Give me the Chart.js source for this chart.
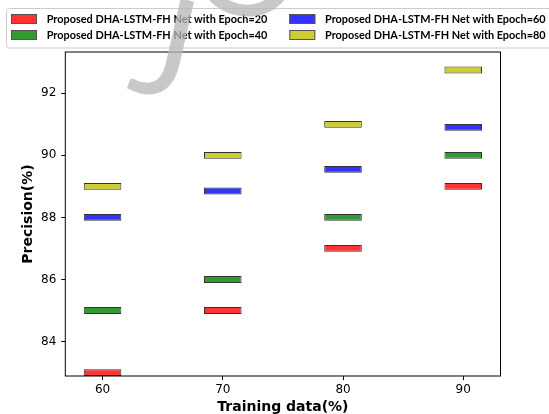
<html>
<head>
<meta charset="utf-8">
<title>Precision vs Training data</title>
<script src="https://cdn.jsdelivr.net/npm/chart.js@4.4.1/dist/chart.umd.min.js"></script>
<style>
  html, body { margin: 0; padding: 0; background: #fff; overflow: hidden; }
  #wrap { width: 549px; height: 426px; }
</style>
</head>
<body>
<div id="wrap"><canvas id="precisionChart"></canvas></div>
<script>
// training data (%) on the x axis
var trainingData = [60, 70, 80, 90];
// precision (%) for each epoch setting
var epoch20 = [83, 85, 87, 89];
var epoch40 = [85, 86, 88, 90];
var epoch60 = [88, 88.85, 89.55, 90.9];
var epoch80 = [89, 90, 91, 92.75];
var seriesLabels = [
    'Proposed DHA-LSTM-FH Net with Epoch=20',
    'Proposed DHA-LSTM-FH Net with Epoch=40',
    'Proposed DHA-LSTM-FH Net with Epoch=60',
    'Proposed DHA-LSTM-FH Net with Epoch=80'
];
var yTicks = [84, 86, 88, 90, 92];

var colors = ['rgb(255,51,51)', 'rgb(51,153,51)', 'rgb(51,51,255)', 'rgb(204,204,51)'];
var barHalf = 0.11; // each mark is a thin floating bar centred on its value

function toBars(values) {
    return values.map(function (v, i) {
        return { x: trainingData[i], y: [v - barHalf, v + barHalf] };
    });
}

var allSeries = [epoch20, epoch40, epoch60, epoch80];
var datasets = allSeries.map(function (vals, i) {
    return {
        label: seriesLabels[i],
        data: toBars(vals),
        backgroundColor: colors[i],
        borderColor: '#333',
        borderWidth: 1,
        borderSkipped: false,
        grouped: false,
        barPercentage: 0.3125,
        categoryPercentage: 1
    };
});

// frame round the plot area
var frame = {
    id: 'frame',
    afterDraw: function (chart) {
        var a = chart.chartArea, ctx = chart.ctx;
        ctx.save();
        ctx.strokeStyle = '#000';
        ctx.lineWidth = 1;
        ctx.strokeRect(a.left, a.top, a.right - a.left, a.bottom - a.top);
        ctx.restore();
    }
};

// two column legend in a rounded box, filled column first
var boxLegend = {
    id: 'boxLegend',
    afterDraw: function (chart) {
        var ctx = chart.ctx;
        var colX = [11, 289.3];
        var rowY = [14, 30];
        ctx.save();
        ctx.beginPath();
        ctx.roundRect(6.5, 8.5, 580, 39.5, 3);
        ctx.fillStyle = 'rgba(255,255,255,0.8)';
        ctx.fill();
        ctx.strokeStyle = 'rgb(204,204,204)';
        ctx.lineWidth = 1;
        ctx.stroke();
        ctx.font = 'bold 10.9px Lato';
        ctx.textBaseline = 'middle';
        chart.data.datasets.forEach(function (ds, i) {
            var x = colX[Math.floor(i / 2)];
            var y = rowY[i % 2];
            ctx.fillStyle = ds.backgroundColor;
            ctx.fillRect(x, y, 26, 10);
            ctx.strokeStyle = '#555';
            ctx.strokeRect(x + 0.5, y + 0.5, 25, 9);
            ctx.fillStyle = '#000';
            ctx.fillText(ds.label, x + 35.7, y + 5.5);
        });
        ctx.restore();
    }
};

// faint watermark letters over the figure
var watermark = {
    id: 'watermark',
    afterDraw: function (chart) {
        var ctx = chart.ctx;
        ctx.save();
        ctx.fillStyle = 'rgba(183,183,183,0.76)';
        ctx.font = '140px Lato';
        ctx.textBaseline = 'alphabetic';
        ctx.translate(183, 102);
        ctx.rotate(13 * Math.PI / 180);
        ctx.textAlign = 'right';
        ctx.fillText('J', 0, 0);
        ctx.restore();
        ctx.save();
        ctx.fillStyle = 'rgba(183,183,183,0.76)';
        ctx.font = '140px Lato';
        ctx.translate(236, 14);
        ctx.rotate(13 * Math.PI / 180);
        ctx.textAlign = 'center';
        ctx.fillText('O', 0, 0);
        ctx.restore();
    }
};

var ctx = document.getElementById('precisionChart').getContext('2d');
var precisionChart = new Chart(ctx, {
    type: 'bar',
    data: { datasets: datasets },
    options: {
        responsive: true,
        maintainAspectRatio: false,
        animation: false,
        layout: { padding: { top: 52, right: 48.5, left: 0, bottom: 0 } },
        plugins: {
            legend: { display: false },
            tooltip: { enabled: false }
        },
        scales: {
            x: {
                type: 'linear',
                offset: false,
                min: 56.9,
                max: 93.1,
                afterBuildTicks: function (scale) {
                    scale.ticks = trainingData.map(function (v) { return { value: v }; });
                },
                afterFit: function (scale) { scale.height = 50; },
                border: { display: false },
                grid: { offset: false, drawOnChartArea: false, color: '#000', tickLength: 4 },
                ticks: { color: '#000', padding: 3, font: { family: 'DejaVu Sans', size: 12 } },
                title: {
                    display: true,
                    text: 'Training data(%)',
                    color: '#000',
                    padding: { top: 0, bottom: 10 },
                    font: { family: 'DejaVu Sans', size: 14, weight: 'bold' }
                }
            },
            y: {
                min: 82.89,
                max: 93.33,
                afterBuildTicks: function (scale) {
                    scale.ticks = yTicks.map(function (v) { return { value: v }; });
                },
                afterFit: function (scale) { scale.width = 65.3; },
                border: { display: false },
                grid: { drawOnChartArea: false, color: '#000', tickLength: 4 },
                ticks: { color: '#000', padding: 5, font: { family: 'DejaVu Sans', size: 12 } },
                title: {
                    display: true,
                    text: 'Precision(%)',
                    color: '#000',
                    padding: { top: 20, bottom: 0 },
                    font: { family: 'DejaVu Sans', size: 14, weight: 'bold' }
                }
            }
        }
    },
    plugins: [frame, boxLegend, watermark]
});
</script>
</body>
</html>
